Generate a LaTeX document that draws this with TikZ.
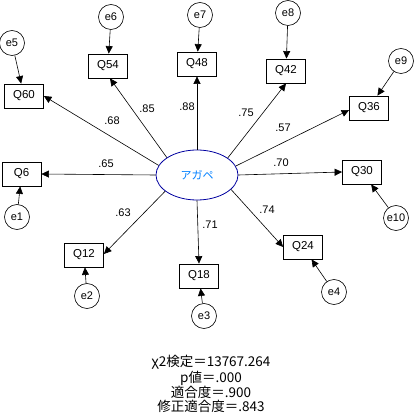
\documentclass[tikz,border=0pt]{standalone}
\usepackage{fontspec}
\setmainfont{Liberation Sans}
\newfontfamily\jpfont{Noto Sans CJK JP}
\usetikzlibrary{shapes.geometric,arrows.meta}
\definecolor{latblue}{RGB}{0,0,160}
\definecolor{txtblue}{RGB}{0,128,255}
\begin{document}
\begin{tikzpicture}[x=1pt,y=-1pt,
  obs/.style={draw,line width=0.8pt,minimum width=39pt,minimum height=24pt,inner sep=0pt,font=\fontsize{11.5}{12}\selectfont},
  err/.style={draw,circle,line width=0.6pt,minimum size=25pt,inner sep=0pt,font=\fontsize{11}{12}\selectfont},
  lat/.style={draw=latblue,ellipse,line width=0.8pt,minimum width=82pt,minimum height=50pt,inner sep=0pt,text=txtblue,font=\jpfont\fontsize{11}{12}\selectfont},
  lab/.style={font=\fontsize{11}{12}\selectfont,inner sep=0pt},
  arr/.style={-{Triangle[length=7.5pt,width=7pt]},line width=0.6pt}]
\useasboundingbox (0,0) rectangle (415,414);
\fill[white] (0,0) rectangle (415,414);
\node[lat] (F) at (197,175) {アガペ};
\node[obs] (Q60) at (24,96) {Q60};
\node[obs] (Q54) at (108,66) {Q54};
\node[obs] (Q48) at (197,64) {Q48};
\node[obs] (Q42) at (286,71) {Q42};
\node[obs] (Q36) at (369,108) {Q36};
\node[obs] (Q30) at (362,172) {Q30};
\node[obs] (Q6) at (21.5,174) {Q6};
\node[obs] (Q12) at (84,255) {Q12};
\node[obs] (Q18) at (199,276) {Q18};
\node[obs] (Q24) at (303,247) {Q24};
\node[err] (e5) at (12,43) {e5};
\node[err] (e6) at (111,17) {e6};
\node[err] (e7) at (200,15) {e7};
\node[err] (e8) at (288,13) {e8};
\node[err] (e9) at (401,61) {e9};
\node[err] (e10) at (396,218) {e10};
\node[err] (e4) at (334,292) {e4};
\node[err] (e3) at (204,316) {e3};
\node[err] (e2) at (87,296) {e2};
\node[err] (e1) at (17,217) {e1};
\draw[arr] (F.166) -- (Q60.east);
\draw[arr] (F.150) -- ([xshift=2pt]Q54.south);
\draw[arr] (F.90) -- (Q48.south);
\draw[arr] (F.29) -- (Q42.south);
\draw[arr] (F.13) -- ([yshift=-2pt]Q36.west);
\draw[arr] (F.0) -- (Q30.west);
\draw[arr] (F.180) -- (Q6.east);
\draw[arr] (F.207) -- ([yshift=1pt]Q12.east);
\draw[arr] (F.270) -- (Q18.north);
\draw[arr] (F.337) -- (Q24.west);
\draw[arr] (e5) -- (Q60);
\draw[arr] (e6) -- (Q54);
\draw[arr] (e7) -- (Q48);
\draw[arr] (e8) -- (Q42);
\draw[arr] (e9) -- (Q36);
\draw[arr] (e10) -- (Q30);
\draw[arr] (e4) -- (Q24);
\draw[arr] (e3) -- (Q18);
\draw[arr] (e2) -- (Q12);
\draw[arr] (e1) -- (Q6);
\node[lab] (l60) at (112,121) {.68};
\node[lab] (l54) at (147,109) {.85};
\node[lab] (l48) at (187,107) {.88};
\node[lab] (l42) at (246,113) {.75};
\node[lab] (l36) at (283,128) {.57};
\node[lab] (l30) at (281,163) {.70};
\node[lab] (l6) at (106,164) {.65};
\node[lab] (l12) at (123,213) {.63};
\node[lab] (l18) at (210,225) {.71};
\node[lab] (l24) at (267,210) {.74};
\node[align=center,inner sep=0pt,font=\jpfont\fontsize{13.5}{14}\selectfont] (fit) at (211,384) {χ2検定＝13767.264\\p値＝.000\\適合度＝.900\\修正適合度＝.843};
\end{tikzpicture}
\end{document}
